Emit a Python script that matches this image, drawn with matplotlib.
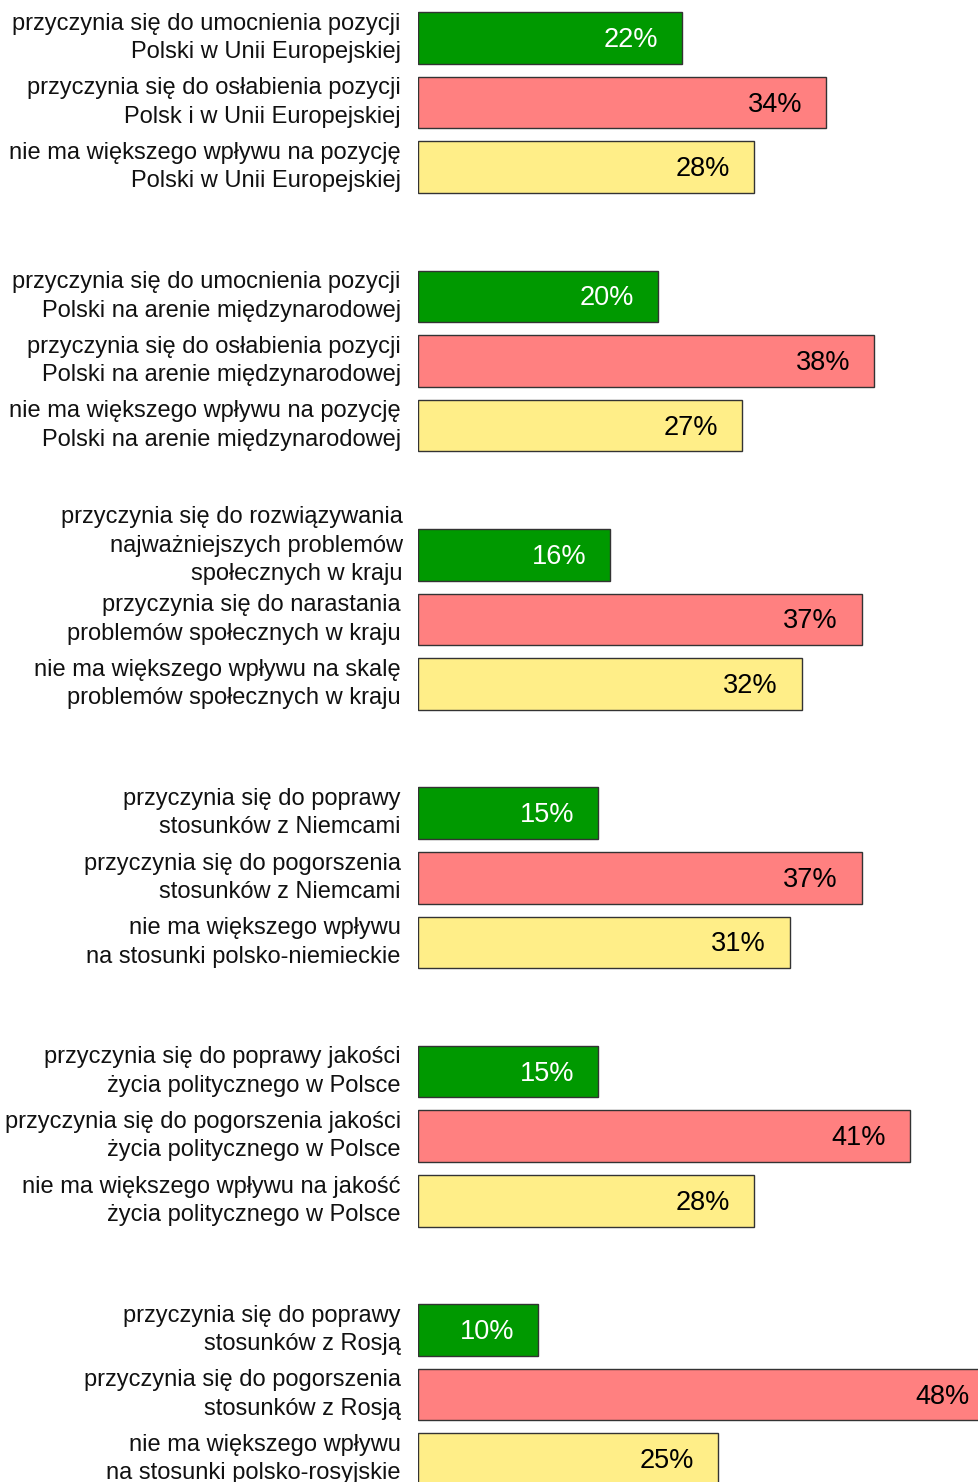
import matplotlib
matplotlib.use("Agg")
import matplotlib.pyplot as plt
from matplotlib.transforms import ScaledTranslation

plt.rcParams['font.family'] = ['Liberation Sans', 'DejaVu Sans']

labels = [
    "przyczynia się do umocnienia pozycji\nPolski w Unii Europejskiej",
    "przyczynia się do osłabienia pozycji\nPolsk i w Unii Europejskiej",
    "nie ma większego wpływu na pozycję\nPolski w Unii Europejskiej",
    "przyczynia się do umocnienia pozycji\nPolski na arenie międzynarodowej",
    "przyczynia się do osłabienia pozycji\nPolski na arenie międzynarodowej",
    "nie ma większego wpływu na pozycję\nPolski na arenie międzynarodowej",
    "przyczynia się do rozwiązywania\nnajważniejszych problemów\nspołecznych w kraju",
    "przyczynia się do narastania\nproblemów społecznych w kraju",
    "nie ma większego wpływu na skalę\nproblemów społecznych w kraju",
    "przyczynia się do poprawy\nstosunków z Niemcami",
    "przyczynia się do pogorszenia\nstosunków z Niemcami",
    "nie ma większego wpływu\nna stosunki polsko-niemieckie",
    "przyczynia się do poprawy jakości\nżycia politycznego w Polsce",
    "przyczynia się do pogorszenia jakości\nżycia politycznego w Polsce",
    "nie ma większego wpływu na jakość\nżycia politycznego w Polsce",
    "przyczynia się do poprawy\nstosunków z Rosją",
    "przyczynia się do pogorszenia\nstosunków z Rosją",
    "nie ma większego wpływu\nna stosunki polsko-rosyjskie",
]
values = [22, 34, 28,
          20, 38, 27,
          16, 37, 32,
          15, 37, 31,
          15, 41, 28,
          10, 48, 25]
kind_colors = ['#009900', '#ff8080', '#ffee88']
text_colors = ['white', 'black', 'black']

W, H = 979, 1482
fig = plt.figure(figsize=(W / 100, H / 100), dpi=100)
left_px = 418
ax = fig.add_axes([left_px / W, 0, (W - left_px) / W, 1])

px_per_pct = 12.0
row_px = 64.6
first_px = 38.0

positions = []
colors = []
tcolors = []
for i in range(len(values)):
    g, k = divmod(i, 3)
    positions.append(4 * g + k)
    colors.append(kind_colors[k])
    tcolors.append(text_colors[k])

ax.barh(positions, values, height=0.8, color=colors, edgecolor='#333333',
        linewidth=1.0, clip_on=True)

pct_shift = ax.transData + ScaledTranslation(0, -2 / 100, fig.dpi_scale_trans)
for p, v, tc in zip(positions, values, tcolors):
    ax.text(v - 2.0, p, f"{v}%", ha='right', va='center', fontsize=19.5,
            color=tc, transform=pct_shift)

ax.set_xlim(0, (W - left_px) / px_per_pct)
ax.set_ylim((H - first_px) / row_px, -first_px / row_px)
ax.set_yticks(positions)
ax.set_yticklabels(labels, fontsize=17, color='#111111')
ax.tick_params(axis='y', length=0, pad=12.5)
for t in ax.get_yticklabels():
    t.set_verticalalignment('center')
    t.set_linespacing(1.38)
    if t.get_text().count("\n") == 2:
        t.set_transform(t.get_transform() +
                        ScaledTranslation(2 / 100, 9 / 100, fig.dpi_scale_trans))
ax.set_xticks([])
for s in ax.spines.values():
    s.set_visible(False)

fig.savefig("out.png", dpi=100)
